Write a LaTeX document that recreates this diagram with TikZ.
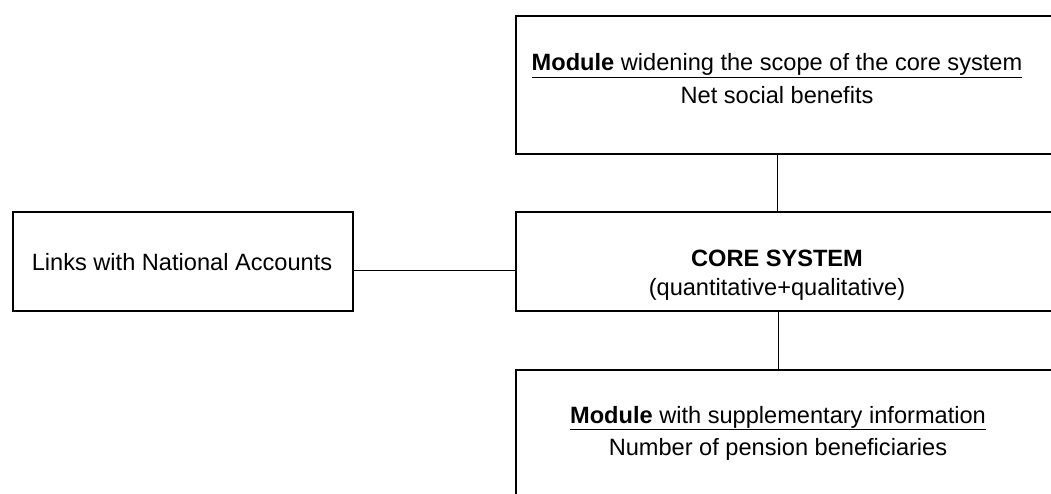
\documentclass[tikz,border=0pt]{standalone}
\usepackage{fontspec}
\setmainfont{Liberation Sans}
\usetikzlibrary{positioning}

\tikzset{
  box/.style={draw, line width=1.6pt, inner sep=0pt, anchor=north west},
  lbl/.style={align=center, inner sep=0pt, font=\fontsize{23.6}{28}\selectfont},
  link/.style={line width=0.9pt}
}

\begin{document}
\begin{tikzpicture}[x=1pt, y=-1pt]
  \clip (0,0) rectangle (1051,493);

  % boxes (the right edges run off the page)
  \node[box, minimum width=340pt, minimum height=99pt] (links) at (12,211) {};
  \node[box, minimum width=560pt, minimum height=138pt] (scope) at (515,15) {};
  \node[box, minimum width=560pt, minimum height=99pt] (core) at (515,211) {};
  \node[box, minimum width=560pt, minimum height=160pt] (suppl) at (515,369) {};

  % texts
  \node[lbl] (linkstext) at (182,262) {Links with National Accounts};
  \node[lbl] (scopetext) at (777,79)
    {\underline{\textbf{Module} widening the scope of the core system}\\[5pt] Net social benefits};
  \node[lbl] (coretext) at (777,275)
    {\textbf{CORE SYSTEM}\\[1pt] (quantitative+qualitative)};
  \node[lbl] (suppltext) at (778,433)
    {\underline{\textbf{Module} with supplementary information}\\[4pt] Number of pension beneficiaries};

  % connectors
  \draw[link] ([yshift=-9.5pt]links.east) -- ([yshift=-9.5pt]links.east -| core.west);
  \draw[link] (scopetext |- scope.south) -- (scopetext |- core.north);
  \draw[link] ([xshift=1pt]coretext |- core.south) -- ([xshift=1pt]coretext |- suppl.north);
\end{tikzpicture}
\end{document}
